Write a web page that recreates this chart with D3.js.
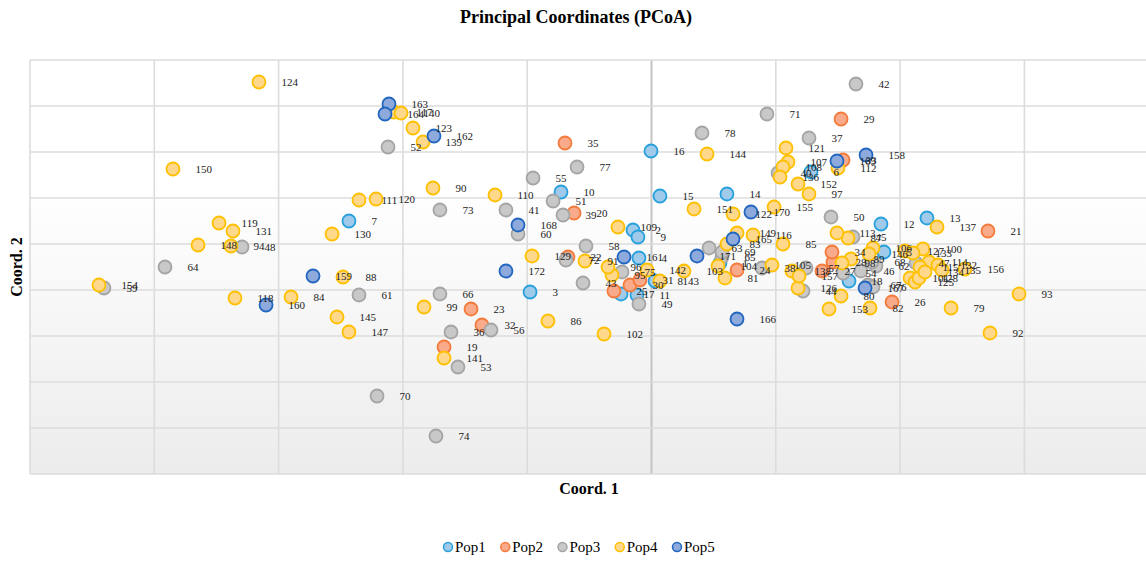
<!DOCTYPE html>
<html>
<head>
<meta charset="utf-8">
<script src="https://cdn.jsdelivr.net/npm/d3@7"></script>
<style>
  body { margin: 0; background: #fff; }
  text { font-family: "Liberation Serif", "Times New Roman", serif; }
</style>
</head>
<body>
<div id="chart-area"></div>
<script>
// sample id, Coord. 1, Coord. 2
const pop1 = [[1,0.551,-0.413],[2,-0.149,0.304],[3,-0.977,-1.043],[4,-0.101,-0.304],[5,1.870,-0.174],
  [6,1.283,1.565],[7,-2.434,0.5],[8,0.028,-0.804],[9,-0.109,0.152],[10,-0.728,1.130],[11,-0.117,-1.109],
  [12,1.846,0.435],[13,2.216,0.565],[14,0.607,1.087],[15,0.068,1.043],[16,-0.004,2.022],[17,-0.245,-1.087],
  [18,1.589,-0.804]];
const pop2 = [[19,-1.669,-2.239],[20,-0.623,0.674],[21,2.707,0.283],[22,-0.672,-0.283],[23,-1.452,-1.413],
  [24,0.688,-0.565],[25,-0.302,-1.022],[26,1.935,-1.261],[27,1.372,-0.587],[28,1.460,-0.391],[29,1.525,2.717],
  [30,-0.173,-0.891],[31,-0.093,-0.783],[32,-1.364,-1.761],[33,1.541,1.826],[34,1.452,-0.174],[35,-0.696,2.196]];
const pop3 = [[36,-1.613,-1.913],[37,1.267,2.304],[38,0.889,-0.522],[39,-0.712,0.630],[40,1.018,1.543],
  [41,-1.171,0.739],[42,1.645,3.478],[43,-0.551,-0.848],[44,1.219,-1.022],[45,1.621,0.152],[46,1.685,-0.587],
  [47,2.128,-0.413],[48,-3.294,-0.065],[49,-0.101,-1.304],[50,1.444,0.587],[51,-0.792,0.935],[52,-2.120,2.109],
  [53,-1.557,-2.674],[54,1.541,-0.630],[55,-0.953,1.435],[56,-1.291,-1.870],[57,1.243,-0.522],[58,-0.527,-0.043],
  [59,-4.405,-0.957],[60,-1.074,0.217],[61,-2.353,-1.109],[62,1.806,-0.478],[63,0.463,-0.087],[64,-3.914,-0.5],
  [65,0.567,-0.283],[66,-1.702,-1.087],[67,1.742,-0.891],[68,1.774,-0.391],[69,0.567,-0.174],[70,-2.208,-3.304],
  [71,0.929,2.826],[72,-0.688,-0.348],[73,-1.702,0.739],[74,-1.734,-4.174],[75,-0.237,-0.609],[76,1.782,-0.935],
  [77,-0.599,1.674],[78,0.406,2.413]];
const pop4 = [[79,2.410,-1.391],[80,1.525,-1.130],[81,0.591,-0.739],[82,1.758,-1.391],[83,0.607,0],
  [84,-2.900,-1.152],[85,1.058,0],[86,-0.833,-1.674],[87,1.581,0.130],[88,-2.482,-0.717],[89,1.605,-0.326],
  [90,-1.758,1.217],[91,-0.535,-0.370],[92,2.723,-1.935],[93,2.957,-1.087],[94,-3.383,-0.043],[95,-0.318,-0.674],
  [96,-0.350,-0.5],[97,1.267,1.087],[98,1.533,-0.413],[99,-1.830,-1.370],[100,2.184,-0.109],[101,2.080,-0.739],
  [102,-0.382,-1.957],[103,0.261,-0.587],[104,0.535,-0.478],[105,0.969,-0.457],[106,1.782,-0.087],
  [107,1.098,1.783],[108,1.058,1.674],[109,-0.270,0.370],[110,-1.259,1.065],[111,-2.353,0.957],[112,1.500,1.652],
  [113,1.492,0.239],[114,2.233,-0.391],[115,2.160,-0.5],[116,0.817,0.196],[117,-2.072,2.870],[118,-3.351,-1.174],
  [119,-3.479,0.457],[120,-2.216,0.978],[121,1.082,2.087],[122,0.656,0.652],[123,-1.919,2.522],[124,-3.158,3.522],
  [125,2.120,-0.826],[126,1.179,-0.957],[127,2.039,-0.152],[128,2.152,-0.739],[129,-0.961,-0.261],[130,-2.570,0.217],
  [131,-3.367,0.283],[132,2.305,-0.457],[133,2.104,-0.196],[134,2.200,-0.609],[135,2.337,-0.565],[136,1.034,1.457],
  [137,2.297,0.370],[138,1.130,-0.587],[139,-1.838,2.217],[140,-2.015,2.848],[141,-1.669,-2.478],[142,-0.036,-0.565],
  [143,0.068,-0.804],[144,0.447,1.957],[145,-2.530,-1.587],[146,1.750,-0.217],[147,-2.434,-1.913],[148,-3.648,-0.022],
  [149,0.688,0.239],[150,-3.850,1.630],[151,0.342,0.761],[152,1.179,1.304],[153,1.428,-1.413],[154,-4.445,-0.891],
  [155,0.986,0.804],[156,2.522,-0.543],[157,1.187,-0.696]];
const pop5 = [[158,1.726,1.935],[159,-2.723,-0.696],[160,-3.101,-1.326],[161,-0.221,-0.283],[162,-1.750,2.348],
  [163,-2.112,3.043],[164,-2.144,2.826],[165,0.656,0.109],[166,0.688,-1.630],[167,1.718,-0.957],[168,-1.074,0.413],
  [169,1.492,1.804],[170,0.800,0.696],[171,0.366,-0.261],[172,-1.171,-0.587]];

const populations = ["Pop1", "Pop2", "Pop3", "Pop4", "Pop5"];
const fills = ["#9fcaea", "#f9aa8a", "#c8c8c8", "#ffd88c", "#8eaadc"];
const strokes = ["#27a0dc", "#f47b3b", "#a5a5a5", "#ffc000", "#2266c0"];
const xDomain = [-5, 4];
const yDomain = [-5, 4];

const chartSize = {width: 1146, height: 561};
const plot = {left: 30, top: 60, width: 1118.7, height: 414};

const svg = d3.select("#chart-area")
    .append("svg")
    .attr("width", chartSize.width)
    .attr("height", chartSize.height);

const defs = svg.append("defs");
const grad = defs.append("linearGradient")
    .attr("id", "bg").attr("x1", 0).attr("y1", 0).attr("x2", 0).attr("y2", 1);
grad.append("stop").attr("offset", "0%").attr("stop-color", "#ffffff");
grad.append("stop").attr("offset", "30%").attr("stop-color", "#ffffff");
grad.append("stop").attr("offset", "100%").attr("stop-color", "#ececec");

const x = d3.scaleLinear().domain(xDomain).range([plot.left, plot.left + plot.width]);
const y = d3.scaleLinear().domain(yDomain).range([plot.top + plot.height, plot.top]);

svg.append("rect")
    .attr("x", plot.left).attr("y", plot.top)
    .attr("width", plot.width).attr("height", plot.height)
    .attr("fill", "url(#bg)");

// grid
const grid = svg.append("g").attr("class", "grid");
grid.selectAll(".vline").data(x.ticks(9)).enter()
    .append("line")
    .attr("x1", d => x(d)).attr("x2", d => x(d))
    .attr("y1", y(yDomain[0])).attr("y2", y(yDomain[1]))
    .attr("stroke", d => d === 0 ? "#c4c4c4" : "#dcdcdc")
    .attr("stroke-width", d => d === 0 ? 2 : 1.6);
grid.selectAll(".hline").data(y.ticks(9)).enter()
    .append("line")
    .attr("x1", x(xDomain[0])).attr("x2", x(xDomain[1]))
    .attr("y1", d => y(d)).attr("y2", d => y(d))
    .attr("stroke", "#dcdcdc")
    .attr("stroke-width", 1.6);

// points, series drawn in order so later populations sit on top
const series = [pop1, pop2, pop3, pop4, pop5];
const pointsG = svg.append("g");
series.forEach((pts, i) => {
    pointsG.append("g").selectAll("circle").data(pts).enter()
        .append("circle")
        .attr("cx", d => x(d[1]))
        .attr("cy", d => y(d[2]))
        .attr("r", 6.5)
        .attr("fill", fills[i])
        .attr("stroke", strokes[i])
        .attr("stroke-width", 1.8);
});

const labelsG = svg.append("g");
series.forEach(pts => {
    labelsG.append("g").selectAll("text").data(pts).enter()
        .append("text")
        .attr("x", d => x(d[1]) + 22.5)
        .attr("y", d => y(d[2]))
        .attr("dy", "0.35em")
        .attr("font-size", 11)
        .attr("fill", "#222")
        .text(d => d[0]);
});

// titles
svg.append("text")
    .attr("x", 576).attr("y", 23)
    .attr("text-anchor", "middle")
    .attr("font-size", 18).attr("font-weight", "bold")
    .text("Principal Coordinates (PCoA)");

svg.append("text")
    .attr("x", 589).attr("y", 494)
    .attr("text-anchor", "middle")
    .attr("font-size", 16).attr("font-weight", "bold")
    .text("Coord. 1");

svg.append("text")
    .attr("transform", "translate(22, 267) rotate(-90)")
    .attr("text-anchor", "middle")
    .attr("font-size", 16).attr("font-weight", "bold")
    .text("Coord. 2");

// legend
const legend = svg.append("g").attr("transform", "translate(448, 547)");
const lx = d3.scalePoint().domain(populations).range([0, 229]);
const item = legend.selectAll("g").data(populations).enter()
    .append("g")
    .attr("transform", d => `translate(${lx(d)}, 0)`);
item.append("circle")
    .attr("r", 4.5)
    .attr("fill", (d, i) => fills[i])
    .attr("stroke", (d, i) => strokes[i])
    .attr("stroke-width", 1.5);
item.append("text")
    .attr("x", 7).attr("dy", "0.35em")
    .attr("font-size", 15)
    .text(d => d);
</script>
</body>
</html>
